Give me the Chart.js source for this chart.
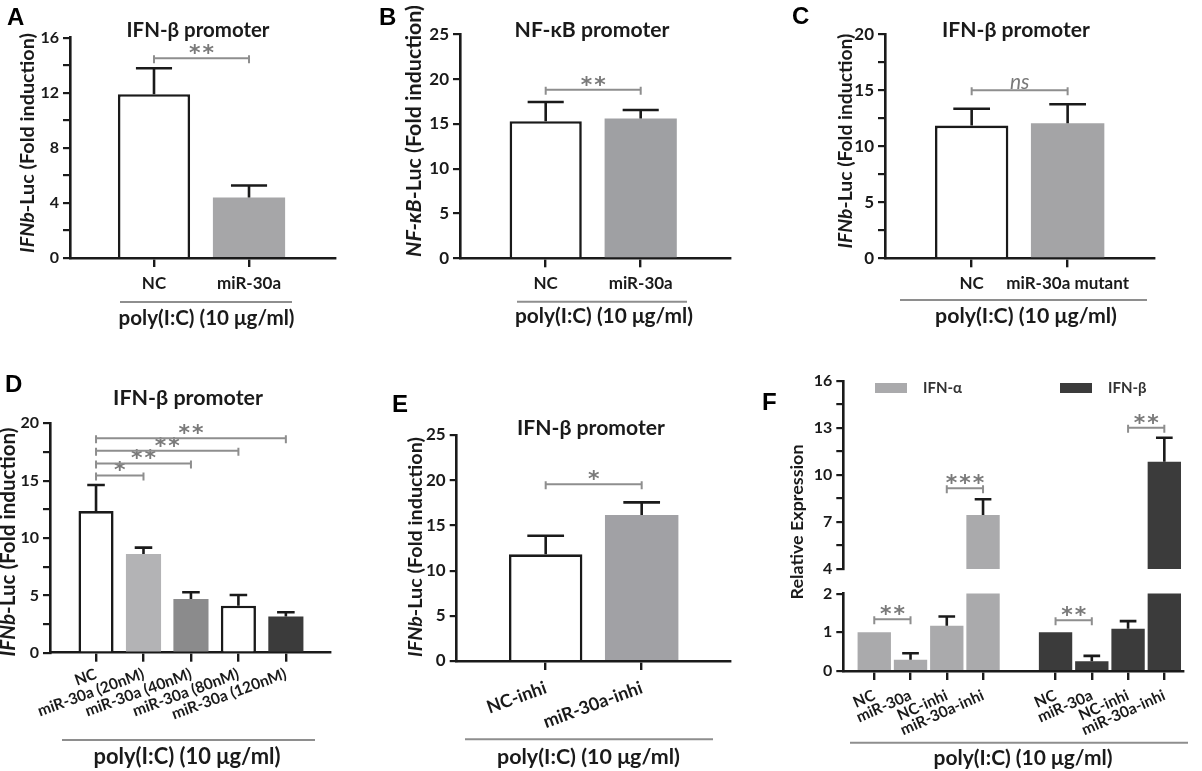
<!DOCTYPE html>
<html>
<head>
<meta charset="utf-8">
<script src="https://cdn.jsdelivr.net/npm/chart.js@4.4.1/dist/chart.umd.min.js"></script>
<style>
  html, body { margin: 0; padding: 0; background: #fff; }
  body { width: 1202px; height: 771px; position: relative; overflow: hidden; }
  canvas { position: absolute; }
  .tag { position: absolute; font: bold 24px 'Liberation Sans', Arial, sans-serif; line-height: 24px; color: #000; }
</style>
</head>
<body>
<canvas id="cA" width="400" height="330" style="left:0;top:0"></canvas>
<canvas id="cB" width="400" height="330" style="left:400px;top:0"></canvas>
<canvas id="cC" width="402" height="330" style="left:800px;top:0"></canvas>
<canvas id="cD" width="400" height="406" style="left:0;top:365px"></canvas>
<canvas id="cE" width="400" height="406" style="left:400px;top:365px"></canvas>
<canvas id="cFup" width="422" height="240" style="left:780px;top:365px"></canvas>
<canvas id="cFlo" width="422" height="191" style="left:780px;top:580px"></canvas>
<div class="tag" style="left:7px;top:5px">A</div>
<div class="tag" style="left:379px;top:5px">B</div>
<div class="tag" style="left:792px;top:4px">C</div>
<div class="tag" style="left:5px;top:372px">D</div>
<div class="tag" style="left:392px;top:392px">E</div>
<div class="tag" style="left:762px;top:390px">F</div>
<script>
const FONT = "Lato, 'Open Sans', sans-serif";
const INK = '#1a1a1a';
const GRAY_LINE = '#8e8e8e';
const GRAY_TEXT = '#7a7a7a';

// A - IFN-β promoter
const catsA = ['NC', 'miR-30a'];
const valsA = [11.9, 4.4];
const errsA = [1.88, 0.87];
const yTicksA = [0, 4, 8, 12, 16];
const sigA = [[1, 2, 14.5, '**']];

// B - NF-κB promoter
const catsB = ['NC', 'miR-30a'];
const valsB = [15.3, 15.6];
const errsB = [2.15, 0.95];
const yTicksB = [0, 5, 10, 15, 20, 25];
const sigB = [[1, 2, 18.8, '**']];

// C - IFN-β promoter, mutant
const catsC = ['NC', 'miR-30a mutant'];
const valsC = [11.85, 12.05];
const errsC = [1.5, 1.7];
const yTicksC = [0, 5, 10, 15, 20];
const sigC = [[1, 2, 15, 'ns']];

// D - dose series
const catsD = ['NC', 'miR-30a (20nM)', 'miR-30a (40nM)', 'miR-30a (80nM)', 'miR-30a (120nM)'];
const valsD = [12.35, 8.6, 4.68, 4.1, 3.15];
const errsD = [2.27, 0.56, 0.59, 0.93, 0.38];
const yTicksD = [0, 5, 10, 15, 20];
const sigD = [[1, 2, 15.45, '*'], [1, 3, 16.5, '**'], [1, 4, 17.6, '**'], [1, 5, 18.7, '**']];

// E - inhibitors
const catsE = ['NC-inhi', 'miR-30a-inhi'];
const valsE = [11.8, 16.15];
const errsE = [2.06, 1.4];
const yTicksE = [0, 5, 10, 15, 20, 25];
const sigE = [[1, 2, 19.55, '*']];

// F - relative expression, broken axis
const catsF = ['NC', 'miR-30a', 'NC-inhi', 'miR-30a-inhi'];
const alphaF = [1.0, 0.29, 1.17, 7.45];
const alphaErrF = [0, 0.17, 0.24, 1.0];
const betaF = [1.0, 0.25, 1.09, 10.85];
const betaErrF = [0, 0.14, 0.2, 1.53];
const yTicksFlow = [0, 1, 2];
const yTicksFup = [4, 7, 10, 13, 16];
const sigF = [[1, 2, 1.34, '**'], [3, 4, 9.15, '***'], [6, 7, 1.31, '**'], [8, 9, 13.02, '**']];

function toPoints(vals, start) {
    return vals.map((v, i) => ({ x: start + i, y: v }));
}

function withMinors(major) {
    const out = [];
    major.forEach((v, i) => {
        out.push(v);
        if (i < major.length - 1) out.push((v + major[i + 1]) / 2);
    });
    return out;
}

function drawSegs(ctx, segs, size, cx, cy, rotate) {
    ctx.save();
    ctx.translate(cx, cy);
    if (rotate) ctx.rotate(-Math.PI / 2);
    const fonts = segs.map(s => `${s.it ? 'italic ' : ''}bold ${size}px ${FONT}`);
    let total = 0;
    segs.forEach((s, i) => { ctx.font = fonts[i]; total += ctx.measureText(s.t).width; });
    let x = -total / 2;
    ctx.textAlign = 'left';
    ctx.textBaseline = 'middle';
    segs.forEach((s, i) => {
        ctx.font = fonts[i];
        ctx.fillText(s.t, x, 0);
        x += ctx.measureText(s.t).width;
    });
    ctx.restore();
}

// font size that makes segs span the wanted width
function fitSize(ctx, segs, target) {
    let w = 0;
    segs.forEach(s => { ctx.font = `${s.it ? 'italic ' : ''}bold 20px ${FONT}`; w += ctx.measureText(s.t).width; });
    return 20 * target / w;
}

function decor(p) {
    return {
        id: 'decor',
        afterDatasetsDraw(chart) {
            const ctx = chart.ctx;
            const xs = chart.scales.x, ys = chart.scales.y;
            ctx.save();
            ctx.fillStyle = INK;

            // error bars (upper side only)
            chart.data.datasets.forEach((ds, di) => {
                const meta = chart.getDatasetMeta(di);
                meta.data.forEach((bar, i) => {
                    const v = ds.data[i].y, e = ds.errors[i];
                    if (!e || v < ys.min || v + e > ys.max) return;
                    const top = ys.getPixelForValue(v + e);
                    const cap = bar.width * 0.5;
                    ctx.strokeStyle = INK;
                    ctx.lineWidth = 2.6;
                    ctx.beginPath();
                    ctx.moveTo(bar.x, bar.y);
                    ctx.lineTo(bar.x, top);
                    ctx.moveTo(bar.x - cap / 2, top);
                    ctx.lineTo(bar.x + cap / 2, top);
                    ctx.stroke();
                });
            });

            // significance brackets
            (p.sig || []).forEach(([a, b, lvl, label]) => {
                if (lvl < ys.min || lvl > ys.max) return;
                const x1 = xs.getPixelForValue(a), x2 = xs.getPixelForValue(b);
                const y = ys.getPixelForValue(lvl);
                ctx.strokeStyle = GRAY_LINE;
                ctx.lineWidth = 2;
                ctx.beginPath();
                ctx.moveTo(x1, y); ctx.lineTo(x2, y);
                ctx.moveTo(x1, y - 3); ctx.lineTo(x1, y + 5);
                ctx.moveTo(x2, y - 3); ctx.lineTo(x2, y + 5);
                ctx.stroke();
                ctx.fillStyle = GRAY_TEXT;
                ctx.textAlign = 'center';
                ctx.textBaseline = 'alphabetic';
                if (label === 'ns') {
                    ctx.font = `italic 21px ${FONT}`;
                    ctx.fillText(label, (x1 + x2) / 2, y - 1);
                } else {
                    ctx.font = "bold 22px 'DejaVu Sans'";
                    ctx.letterSpacing = '2px';
                    ctx.fillText(label, (x1 + x2) / 2 + 1, y + 2);
                    ctx.letterSpacing = '0px';
                }
            });

            ctx.fillStyle = INK;
            if (p.title) {
                const segs = [{ t: p.title.text }];
                drawSegs(ctx, segs, fitSize(ctx, segs, p.title.w), p.title.x, p.title.y, false);
            }
            if (p.yTitle) {
                drawSegs(ctx, p.yTitle.segs, fitSize(ctx, p.yTitle.segs, p.yTitle.len), p.yTitle.x, p.yTitle.y, true);
            }
            if (p.group) {
                const g = p.group;
                ctx.strokeStyle = GRAY_LINE;
                ctx.lineWidth = 2;
                ctx.beginPath();
                ctx.moveTo(g.x1, g.y); ctx.lineTo(g.x2, g.y);
                ctx.stroke();
                const segs = [{ t: 'poly(I:C) (10 μg/ml)' }];
                ctx.fillStyle = INK;
                drawSegs(ctx, segs, fitSize(ctx, segs, g.w), g.tx, g.ty, false);
            }
            if (p.legend) {
                p.legend.forEach(l => {
                    ctx.fillStyle = l.color;
                    ctx.fillRect(l.x, l.y, 32, 10);
                    ctx.fillStyle = '#333';
                    ctx.font = `bold 15px ${FONT}`;
                    ctx.textAlign = 'left';
                    ctx.textBaseline = 'middle';
                    ctx.fillText(l.text, l.x + 48, l.y + 5);
                });
            }
            ctx.restore();
        }
    };
}

function barChart(id, p) {
    const ticksY = withMinors(p.yTicks);
    const labelAt = {};
    p.positions.forEach((pos, i) => { labelAt[pos] = p.labels[i]; });
    return new Chart(document.getElementById(id), {
        type: 'bar',
        data: { datasets: p.datasets },
        options: {
            responsive: false,
            animation: false,
            events: [],
            layout: { padding: { top: p.pad[0], right: p.pad[1], bottom: p.pad[2], left: 0 } },
            plugins: { legend: { display: false }, tooltip: { enabled: false } },
            scales: {
                x: {
                    type: 'linear',
                    offset: false,
                    display: p.showX !== false,
                    min: p.xRange[0],
                    max: p.xRange[1],
                    afterBuildTicks: s => { s.ticks = p.positions.map(v => ({ value: v })); },
                    afterFit: s => { s.height = p.xHeight; },
                    border: { color: INK, width: 2.6 },
                    grid: { offset: false, drawOnChartArea: false, tickLength: 9, color: INK, lineWidth: 2.4 },
                    ticks: {
                        autoSkip: false,
                        minRotation: p.rot || 0,
                        maxRotation: p.rot || 0,
                        padding: p.xPad,
                        color: INK,
                        font: { family: FONT, weight: 'bold', size: p.xFont },
                        callback: v => (labelAt[v] !== undefined ? labelAt[v] : '')
                    }
                },
                y: {
                    min: p.yTicks[0],
                    max: p.yTicks[p.yTicks.length - 1],
                    afterBuildTicks: s => { s.ticks = ticksY.map(v => ({ value: v })); },
                    afterFit: s => { s.width = p.yWidth; },
                    border: { color: INK, width: 2.6 },
                    grid: { drawOnChartArea: false, tickLength: 7, color: INK, lineWidth: 2.2 },
                    ticks: {
                        padding: 4,
                        color: INK,
                        font: { family: FONT, weight: 'bold', size: p.yFont },
                        callback: v => (p.yTicks.includes(v) ? String(v) : '')
                    }
                }
            }
        },
        plugins: [decor(p)]
    });
}

const barBase = { grouped: false, categoryPercentage: 1, borderColor: INK, borderSkipped: 'bottom' };
const ifnbSegs = [{ t: 'IFNb', it: true }, { t: '-Luc (Fold induction)' }];

function build() {
    barChart('cA', {
        datasets: [{ ...barBase, data: toPoints(valsA, 1), errors: errsA, barPercentage: 0.76,
            backgroundColor: ['#ffffff', '#a6a6a8'], borderWidth: [2.6, 0] }],
        positions: [1, 2], labels: catsA, xRange: [0.116, 2.905],
        yTicks: yTicksA, yWidth: 70, xHeight: 72, pad: [37.7, 65, 0],
        xFont: 17, xPad: 6, yFont: 16, sig: sigA,
        title: { text: 'IFN-β promoter', x: 198, y: 30, w: 143 },
        yTitle: { segs: ifnbSegs, x: 27.5, y: 143, len: 220 },
        group: { x1: 120, x2: 292, y: 302, tx: 206.5, ty: 318, w: 176 }
    });

    barChart('cB', {
        datasets: [{ ...barBase, data: toPoints(valsB, 1), errors: errsB, barPercentage: 0.76,
            backgroundColor: ['#ffffff', '#9fa0a3'], borderWidth: [2.6, 0] }],
        positions: [1, 2], labels: catsB, xRange: [0.098, 2.94],
        yTicks: yTicksB, yWidth: 60, xHeight: 71.7, pad: [34.3, 70, 0],
        xFont: 17, xPad: 6, yFont: 17, sig: sigB,
        title: { text: 'NF-κB promoter', x: 192, y: 30, w: 155 },
        yTitle: { segs: [{ t: 'NF-κB', it: true }, { t: '-Luc (Fold induction)' }], x: 14, y: 131, len: 252 },
        group: { x1: 117, x2: 287, y: 301.7, tx: 204, ty: 316, w: 178 }
    });

    barChart('cC', {
        datasets: [{ ...barBase, data: toPoints(valsC, 1), errors: errsC, barPercentage: 0.765,
            backgroundColor: ['#ffffff', '#a4a4a6'], borderWidth: [2.6, 0] }],
        positions: [1, 2], labels: catsC, xRange: [0.097, 2.9],
        yTicks: yTicksC, yWidth: 85, xHeight: 71.7, pad: [34.3, 48, 0],
        xFont: 17, xPad: 6, yFont: 17, sig: sigC,
        title: { text: 'IFN-β promoter', x: 216, y: 30, w: 148 },
        yTitle: { segs: ifnbSegs, x: 46, y: 141, len: 215 },
        group: { x1: 100, x2: 347, y: 300, tx: 226, ty: 316, w: 182 }
    });

    barChart('cD', {
        datasets: [{ ...barBase, data: toPoints(valsD, 1), errors: errsD, barPercentage: 0.74,
            backgroundColor: ['#ffffff', '#b3b3b5', '#8b8b8c', '#ffffff', '#3b3b3b'],
            borderWidth: [2.6, 0, 0, 2.6, 0] }],
        positions: [1, 2, 3, 4, 5], labels: catsD, xRange: [0.03, 5.93],
        yTicks: yTicksD, yWidth: 50, xHeight: 118.3, pad: [58.3, 70, 0],
        xFont: 15.5, xPad: 3, rot: 20, yFont: 16, sig: sigD,
        title: { text: 'IFN-β promoter', x: 188, y: 33, w: 150 },
        yTitle: { segs: ifnbSegs, x: 8, y: 177, len: 229 },
        group: { x1: 62, x2: 315, y: 375, tx: 187, ty: 392, w: 187 }
    });

    barChart('cE', {
        datasets: [{ ...barBase, data: toPoints(valsE, 1), errors: errsE, barPercentage: 0.765,
            backgroundColor: ['#ffffff', '#a1a1a5'], borderWidth: [2.6, 0] }],
        positions: [1, 2], labels: catsE, xRange: [0.073, 2.92],
        yTicks: yTicksE, yWidth: 56.7, xHeight: 110, pad: [70, 70, 0],
        xFont: 18, xPad: 7, rot: 20, yFont: 17, sig: sigE,
        title: { text: 'IFN-β promoter', x: 191, y: 63, w: 148 },
        yTitle: { segs: ifnbSegs, x: 15.5, y: 182, len: 220 },
        group: { x1: 65, x2: 313, y: 374.3, tx: 188.5, ty: 392, w: 183 }
    });

    const fSets = () => [
        { ...barBase, data: toPoints(alphaF, 1), errors: alphaErrF, barPercentage: 0.92,
            backgroundColor: '#aaaaac', borderWidth: 0, clip: 0 },
        { ...barBase, data: toPoints(betaF, 6), errors: betaErrF, barPercentage: 0.92,
            backgroundColor: '#3b3b3b', borderWidth: 0, clip: 0 }
    ];
    const fPos = [1, 2, 3, 4, 6, 7, 8, 9];
    const fLabels = catsF.concat(catsF);

    barChart('cFup', {
        datasets: fSets(), positions: fPos, labels: fLabels, xRange: [0.146, 9.515],
        yTicks: yTicksFup, yWidth: 63.3, xHeight: 0, pad: [16, 19, 36], showX: false,
        xFont: 15, xPad: 6, yFont: 16, sig: sigF,
        yTitle: { segs: [{ t: 'Relative Expression' }], x: 17.7, y: 157, len: 155 },
        legend: [
            { text: 'IFN-α', color: '#aaaaac', x: 95, y: 18 },
            { text: 'IFN-β', color: '#3b3b3b', x: 280, y: 18 }
        ]
    });

    barChart('cFlo', {
        datasets: fSets(), positions: fPos, labels: fLabels, xRange: [0.146, 9.515],
        yTicks: yTicksFlow, yWidth: 63.3, xHeight: 100, pad: [10.7, 19, 0],
        xFont: 15.5, xPad: 6, rot: 24, yFont: 16, sig: sigF,
        group: { x1: 70, x2: 408, y: 162.7, tx: 243, ty: 178, w: 179 }
    });
}

Promise.all([
    document.fonts.load(`bold 16px Lato`),
    document.fonts.load(`italic bold 16px Lato`),
    document.fonts.load(`italic 16px Lato`),
    document.fonts.load(`bold 16px 'DejaVu Sans'`)
]).catch(() => {}).then(build);
</script>
</body>
</html>
